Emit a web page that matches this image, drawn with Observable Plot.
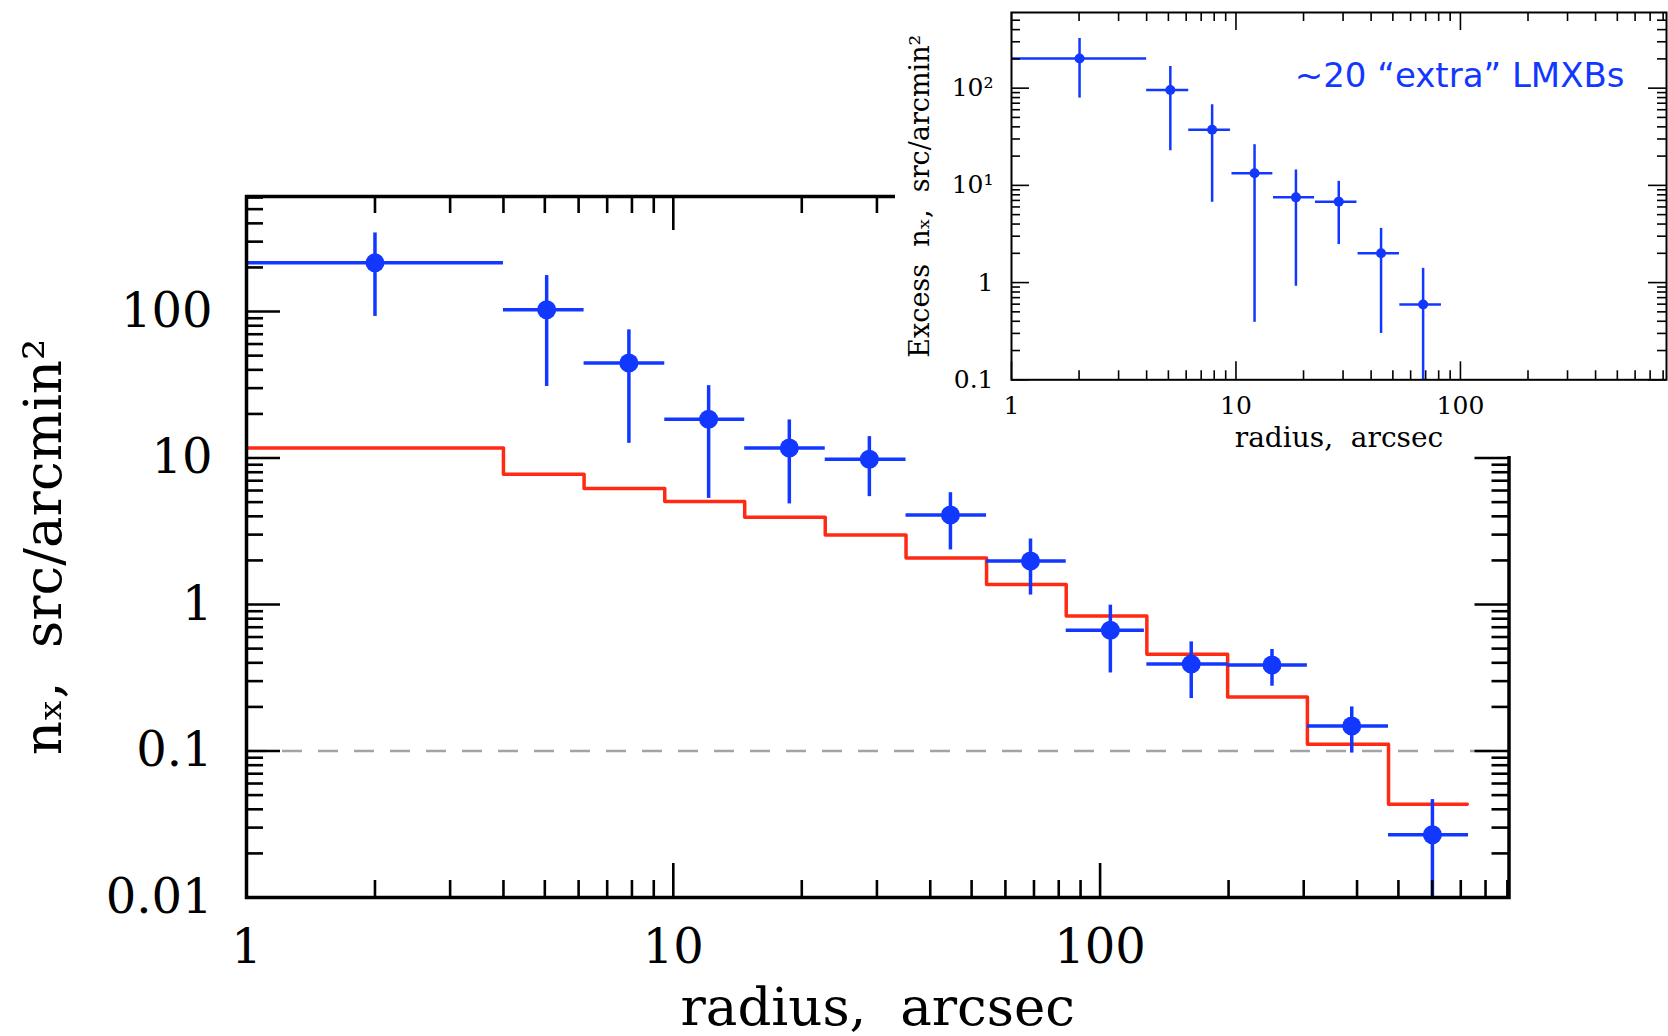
<!DOCTYPE html>
<html><head><meta charset="utf-8">
<script src="https://cdn.jsdelivr.net/npm/d3@7"></script>
<script src="https://cdn.jsdelivr.net/npm/@observablehq/plot@0.6"></script>
<style>
html,body{margin:0;padding:0;background:#fff;}
#wrap{position:relative;width:1668px;height:1036px;overflow:hidden;background:#fff;}
#main{position:absolute;left:0;top:0;}
#inset{position:absolute;left:895px;top:0;background:#fff;width:773px;height:456px;}
svg{display:block;}
</style></head><body><div id="wrap"><div id="main"></div><div id="inset"></div></div>
<script>
// ---------- Main panel data ----------
const mainX    = [2, 5.05, 7.87, 12.1, 18.7, 28.8, 44.6, 68.7, 105.7, 163.5, 252.8, 388.7, 600.7];
const mainY    = [215, 103, 44.5, 18.4, 11.7, 9.8, 4.08, 1.98, 0.668, 0.392, 0.386, 0.148, 0.0268];
const mainXlo  = [1, 4.0, 6.18, 9.55, 14.7, 22.7, 35.1, 54.2, 83.3, 128.7, 199, 306, 474];
const mainXhi  = [4.0, 6.18, 9.55, 14.7, 22.7, 35.1, 54.2, 83.3, 127, 199, 306, 474, 730];
const mainYlo  = [92.6, 30.8, 12.6, 5.3, 4.86, 5.45, 2.36, 1.16, 0.341, 0.228, 0.277, 0.0968, 0.01];
const mainYhi  = [344, 176, 75, 31.2, 18.2, 14.0, 5.8, 2.8, 0.99, 0.556, 0.493, 0.2, 0.0466];
// expected (red) step histogram
const stepEdges  = [1, 4.0, 6.18, 9.55, 14.7, 22.7, 35.1, 54.2, 83.3, 128.7, 199, 306, 474, 725];
const stepLevels = [11.7, 7.75, 6.2, 5.04, 3.94, 2.98, 2.08, 1.37, 0.834, 0.458, 0.234, 0.111, 0.0433];
const refLevel = [0.1];
const mainXTicks = [1, 10, 100];
const mainYTicks = [0.01, 0.1, 1, 10, 100];

// ---------- Inset data ----------
const insetX   = [2.01, 5.1, 7.83, 12.1, 18.5, 28.7, 44.3, 68.2];
const insetY   = [202, 95.6, 37.4, 13.3, 7.53, 6.8, 2.0, 0.594];
const insetXlo = [1, 4.0, 6.16, 9.6, 14.7, 22.6, 35, 53.7];
const insetXhi = [4.0, 6.16, 9.45, 14.6, 22.4, 34.6, 53.5, 82.3];
const insetYlo = [79, 22.7, 6.7, 0.39, 0.917, 2.46, 0.30, 0.1];
const insetYhi = [324, 167, 67.5, 26.2, 14.4, 11.0, 3.61, 1.40];
const insetXTicks = [1, 10, 100];
const insetYTicks = [0.1, 1, 10, 100];
const insetYTickText = ["0.1", "1", "10\u00B9", "10\u00B2"];
const annotation = "~20 \u201Cextra\u201D LMXBs";

const BLUE = "#1238ff", RED = "#ff2a14", GREY = "#a3a3a3";
const SERIF = "'DejaVu Serif', 'Liberation Serif', serif";

function minors(lo, hi) { // minor tick positions for log axes
  const out = [];
  for (let p = Math.floor(Math.log10(lo)); p <= Math.ceil(Math.log10(hi)); p++)
    for (let m = 2; m <= 9; m++) { const v = m * Math.pow(10, p); if (v > lo && v < hi) out.push(v); }
  return out;
}

// ---------- Main plot ----------
{
  const W = 1668, H = 1036, mL = 246, mR = 1668 - 1508.5, mT = 196, mB = 1036 - 897;
  const FW = W - mL - mR, FH = H - mT - mB;
  const xDom = [1, 908], yDom = [0.01, 610];
  const xMin = minors(xDom[0], xDom[1]), yMin = minors(yDom[0], yDom[1]);
  const idx = d3.range(mainX.length);
  const stepPts = stepLevels.map((v, i) => ({x: stepEdges[i], y: v}));
  stepPts.push({x: stepEdges[stepEdges.length - 1], y: stepLevels[stepLevels.length - 1]});
  const LMaj = 34, LMin = 17, tw = 2.6;
  const chart = Plot.plot({
    width: W, height: H, marginLeft: mL, marginRight: mR, marginTop: mT, marginBottom: mB,
    x: {type: "log", domain: xDom, axis: null},
    y: {type: "log", domain: yDom, axis: null},
    style: {fontFamily: SERIF, background: "transparent", overflow: "visible"},
    marks: [
      Plot.ruleY(refLevel, {stroke: GREY, strokeWidth: 2.5, strokeDasharray: "20,16"}),
      Plot.line(stepPts, {x: "x", y: "y", curve: "step-after", stroke: RED, strokeWidth: 3.5}),
      Plot.ruleY(idx, {y: i => mainY[i], x1: i => mainXlo[i], x2: i => mainXhi[i], stroke: BLUE, strokeWidth: 3.5}),
      Plot.ruleX(idx, {x: i => mainX[i], y1: i => mainYlo[i], y2: i => mainYhi[i], stroke: BLUE, strokeWidth: 3.5}),
      Plot.dot(idx, {x: i => mainX[i], y: i => mainY[i], r: 9.5, fill: BLUE}),
      // inward ticks on all sides
      Plot.tickX(mainXTicks, {x: d => d, insetTop: FH - LMaj, strokeWidth: tw, stroke: "#000"}),
      Plot.tickX(xMin, {x: d => d, insetTop: FH - LMin, strokeWidth: tw, stroke: "#000"}),
      Plot.tickX(mainXTicks, {x: d => d, insetBottom: FH - LMaj, strokeWidth: tw, stroke: "#000"}),
      Plot.tickX(xMin, {x: d => d, insetBottom: FH - LMin, strokeWidth: tw, stroke: "#000"}),
      Plot.tickY(mainYTicks, {y: d => d, insetRight: FW - LMaj, strokeWidth: tw, stroke: "#000"}),
      Plot.tickY(yMin, {y: d => d, insetRight: FW - LMin, strokeWidth: tw, stroke: "#000"}),
      Plot.tickY(mainYTicks, {y: d => d, insetLeft: FW - LMaj, strokeWidth: tw, stroke: "#000"}),
      Plot.tickY(yMin, {y: d => d, insetLeft: FW - LMin, strokeWidth: tw, stroke: "#000"}),
      Plot.frame({stroke: "#000", strokeWidth: 3.5}),
      Plot.axisX(mainXTicks, {tickSize: 0, tickPadding: 31, fontSize: 48, tickFormat: d => String(d), label: null}),
      Plot.axisY(mainYTicks, {tickSize: 0, tickPadding: 34, fontSize: 48, tickFormat: d => String(d), label: null}),
      Plot.text(["radius,  arcsec"], {frameAnchor: "bottom", dy: 127, fontSize: 53, textAnchor: "middle", fill: "#000"}),
      Plot.text(["n\u2093,  src/arcmin\u00B2"], {frameAnchor: "left", rotate: -90, dx: -202, fontSize: 53, textAnchor: "middle", fill: "#000"})
    ]
  });
  document.getElementById("main").appendChild(chart);
}

// ---------- Inset plot ----------
{
  const W = 773, H = 456, mL = 116, mR = 2, mT = 12, mB = 456 - 379.3;
  const FW = W - mL - mR, FH = H - mT - mB;
  const xDom = [1, 828], yDom = [0.1, 600];
  const xMin = minors(xDom[0], xDom[1]), yMin = minors(yDom[0], yDom[1]);
  const idx = d3.range(insetX.length);
  const LMaj = 18, LMin = 9, tw = 1.6;
  const fmt = d => insetYTickText[insetYTicks.indexOf(d)];
  const chart = Plot.plot({
    width: W, height: H, marginLeft: mL, marginRight: mR, marginTop: mT, marginBottom: mB,
    x: {type: "log", domain: xDom, axis: null},
    y: {type: "log", domain: yDom, axis: null},
    style: {fontFamily: SERIF, background: "#fff", overflow: "visible"},
    marks: [
      Plot.ruleY(idx, {y: i => insetY[i], x1: i => insetXlo[i], x2: i => insetXhi[i], stroke: BLUE, strokeWidth: 2.5}),
      Plot.ruleX(idx, {x: i => insetX[i], y1: i => insetYlo[i], y2: i => insetYhi[i], stroke: BLUE, strokeWidth: 2.5}),
      Plot.dot(idx, {x: i => insetX[i], y: i => insetY[i], r: 5, fill: BLUE}),
      Plot.tickX(insetXTicks, {x: d => d, insetTop: FH - LMaj, strokeWidth: tw, stroke: "#000"}),
      Plot.tickX(xMin, {x: d => d, insetTop: FH - LMin, strokeWidth: tw, stroke: "#000"}),
      Plot.tickX(insetXTicks, {x: d => d, insetBottom: FH - LMaj, strokeWidth: tw, stroke: "#000"}),
      Plot.tickX(xMin, {x: d => d, insetBottom: FH - LMin, strokeWidth: tw, stroke: "#000"}),
      Plot.tickY(insetYTicks, {y: d => d, insetRight: FW - LMaj, strokeWidth: tw, stroke: "#000"}),
      Plot.tickY(yMin, {y: d => d, insetRight: FW - LMin, strokeWidth: tw, stroke: "#000"}),
      Plot.tickY(insetYTicks, {y: d => d, insetLeft: FW - LMaj, strokeWidth: tw, stroke: "#000"}),
      Plot.tickY(yMin, {y: d => d, insetLeft: FW - LMin, strokeWidth: tw, stroke: "#000"}),
      Plot.frame({stroke: "#000", strokeWidth: 2}),
      Plot.axisX(insetXTicks, {tickSize: 0, tickPadding: 16, fontSize: 25, tickFormat: d => String(d), label: null}),
      Plot.axisY(insetYTicks, {tickSize: 0, tickPadding: 18, fontSize: 25, tickFormat: fmt, label: null}),
      Plot.text(["radius,  arcsec"], {frameAnchor: "bottom", dy: 67, fontSize: 28, textAnchor: "middle", fill: "#000"}),
      Plot.text(["Excess  n\u2093,  src/arcmin\u00B2"], {frameAnchor: "left", rotate: -90, dx: -91, fontSize: 27, textAnchor: "middle", fill: "#000"}),
      Plot.text([annotation], {frameAnchor: "top-right", dx: -42, dy: 50, textAnchor: "end", fontSize: 34, fill: BLUE, fontFamily: "'DejaVu Sans', sans-serif"})
    ]
  });
  document.getElementById("inset").appendChild(chart);
}
</script></body></html>
